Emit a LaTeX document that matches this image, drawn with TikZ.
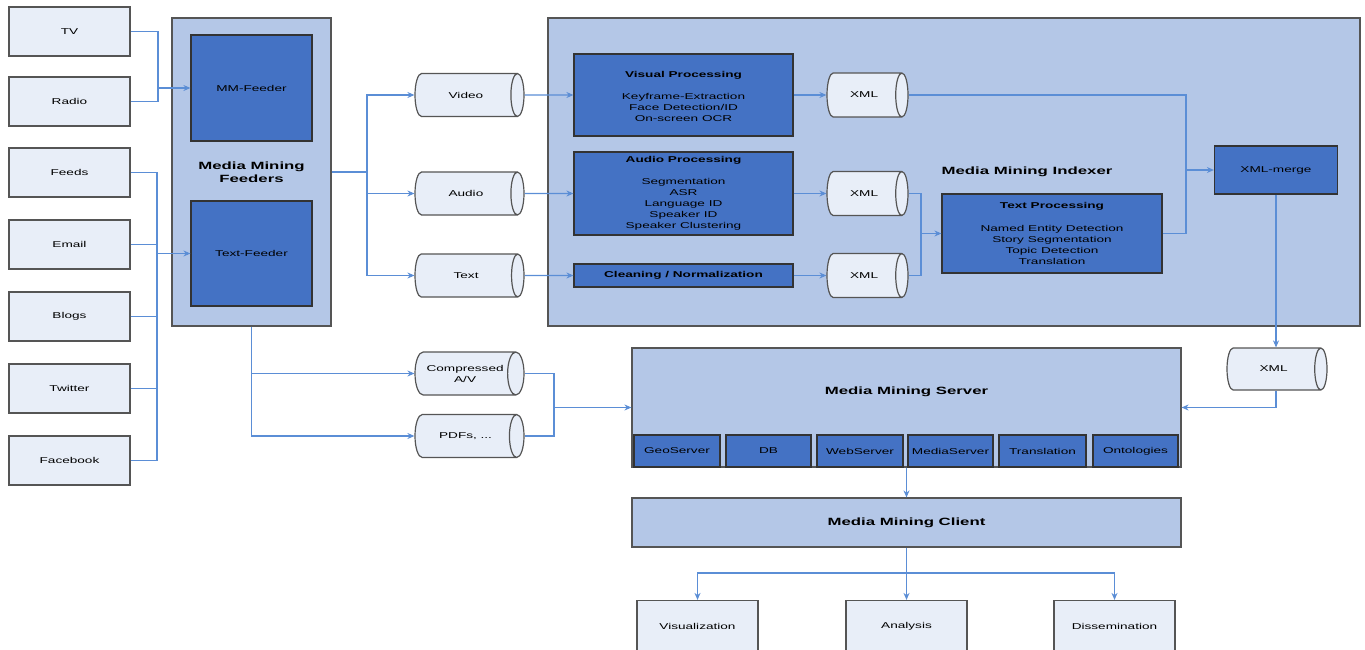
\documentclass[tikz,border=0pt]{standalone}
\usepackage{fontspec}
\setmainfont{Liberation Sans}[FakeStretch=1.6]
\usetikzlibrary{arrows.meta,shapes.geometric}

\definecolor{srcfill}{HTML}{E8EEF8}
\definecolor{boxblue}{HTML}{4472C4}
\definecolor{panelblue}{HTML}{B4C7E7}
\definecolor{wireblue}{HTML}{5B8ED6}
\definecolor{rim}{HTML}{555555}

\begin{document}
\begin{tikzpicture}[x=1pt,y=-1pt,>={Stealth[length=7pt,width=6pt]},node distance=72pt,
                    font=\fontsize{8.5}{11}\selectfont,
                    src node/.style={rectangle,draw=rim,line width=1.2pt,fill=srcfill,minimum width=121pt,minimum height=49pt,inner sep=0pt},
                    blue node/.style={rectangle,draw=rim!60!black,line width=1.2pt,fill=boxblue,inner sep=0pt,align=center},
                    panel node/.style={rectangle,draw=rim,line width=1.2pt,fill=panelblue,inner sep=0pt,align=center,font=\fontsize{10.5}{13}\selectfont\bfseries},
                    head text/.style={font=\fontsize{10.5}{13}\selectfont\bfseries},
                    store/.style={cylinder,shape aspect=2.1,anchor=shape center,draw=rim,line width=1.2pt,fill=srcfill,inner sep=0pt,align=center,minimum height=109pt,minimum width=43pt},
                    link/.style={draw=wireblue,line width=1.2pt},
                    elbow/.style={to path={-| (\tikztotarget)}},
                    knee/.style={to path={|- (\tikztotarget)}}]

  \useasboundingbox (0,0) rectangle (1365,650);
  \clip (0,0) rectangle (1365,650);

  % sources
  \node[src node] (tv) at (69.5,31.5) {TV};
  \node[src node] (radio) [below of=tv,node distance=70pt] {Radio};
  \node[src node] (feeds) [below of=radio,node distance=71pt] {Feeds};
  \node[src node] (email) [below of=feeds] {Email};
  \node[src node] (blogs) [below of=email] {Blogs};
  \node[src node] (twitter) [below of=blogs] {Twitter};
  \node[src node] (facebook) [below of=twitter] {Facebook};

  % feeders
  \node[panel node,minimum width=159pt,minimum height=308pt] (feeders) at (251.5,172) {Media Mining\\Feeders};
  \node[blue node,minimum width=121pt,minimum height=106pt] (mmfeed) at (251.5,88) {MM-Feeder};
  \node[blue node,minimum width=121pt,minimum height=105pt] (txtfeed) at (251.5,253.5) {Text-Feeder};

  % indexer
  \node[panel node,minimum width=812pt,minimum height=308pt] (indexer) at (954,172) {};
  \node[head text] (idxlabel) at (1027,172) {Media Mining Indexer};

  \node[store] (video) at (469.5,95) {Video};
  \node[store] (audio) at (469.5,193.5) {Audio};
  \node[store] (text) at (469.5,275.5) {Text};

  \node[blue node,minimum width=219pt,minimum height=82pt] (visual) at (683.5,95)
    {\mbox{}\\[-1pt]\textbf{Visual Processing}\\[11pt]Keyframe-Extraction\\Face Detection/ID\\On-screen OCR};
  \node[blue node,minimum width=219pt,minimum height=83pt] (audioproc) at (683.5,193.5)
    {\textbf{Audio Processing}\\[11pt]Segmentation\\ASR\\Language ID\\Speaker ID\\Speaker Clustering};
  \node[blue node,minimum width=219pt,minimum height=23pt] (clean) at (683.5,275.5) {\textbf{Cleaning / Normalization}};

  \node[store,minimum height=81pt,minimum width=44pt] (xmlv) at (867.5,95) {XML};
  \node[store,minimum height=81pt,minimum width=44pt] (xmla) at (867.5,193.5) {XML};
  \node[store,minimum height=81pt,minimum width=44pt] (xmlt) at (867.5,275.5) {XML};

  \node[blue node,minimum width=220pt,minimum height=79pt] (textproc) at (1052,233.5)
    {\textbf{Text Processing}\\[12pt]Named Entity Detection\\Story Segmentation\\Topic Detection\\Translation};
  \node[blue node,minimum width=123pt,minimum height=48pt] (merge) at (1276,170) {XML-merge};
  \node[store,minimum height=100pt,minimum width=42pt] (xmlout) at (1277,369) {XML};

  % archive
  \node[store,shape aspect=0.95] (compav) at (469.5,373.5) {Compressed\\A/V};
  \node[store] (pdfs) at (469.5,436) {PDFs, ...};

  % server and client
  \node[panel node,minimum width=549pt,minimum height=119pt] (server) at (906.5,407.5) {};
  \node[head text] (srvlabel) at (906.5,392) {Media Mining Server};
  \node[blue node,minimum width=86pt,minimum height=32pt] (geo) at (677,451) {GeoServer};
  \node[blue node,minimum width=85pt,minimum height=32pt] (db) at (768.5,451) {DB};
  \node[blue node,minimum width=86pt,minimum height=32pt] (web) at (860,451) {WebServer};
  \node[blue node,minimum width=85pt,minimum height=32pt] (media) at (950.5,451) {MediaServer};
  \node[blue node,minimum width=87pt,minimum height=32pt] (transl) at (1042.5,451) {Translation};
  \node[blue node,minimum width=85pt,minimum height=32pt] (onto) at (1135.5,451) {Ontologies};

  \node[panel node,minimum width=549pt,minimum height=49pt] (client) at (906.5,522.5) {Media Mining Client};
  \node[src node,minimum height=52pt] (vis) at (697.5,626.5) {Visualization};
  \node[src node,minimum height=52pt] (analysis) at (906.5,626.5) {Analysis};
  \node[src node,minimum height=52pt] (dissem) at (1114.5,626.5) {Dissemination};

  \coordinate (mmjoin) at (158,88);
  \coordinate (txjoin) at (157,253.5);
  \coordinate (fdjoin) at (367,172);
  \coordinate (tpjoin) at (921,233.5);
  \coordinate (mgjoin) at (1186,170);
  \coordinate (avjoin) at (554,407.5);
  \coordinate (clsplit) at (906.5,573);

  \path[link]
    (tv.east) edge [elbow] (mmjoin)
    (radio.east) edge [elbow] (mmjoin)
    (mmjoin) edge [->] (mmfeed)

    (feeds.east) edge [elbow] (txjoin)
    (email.east) edge [elbow] (txjoin)
    (blogs.east) edge [elbow] (txjoin)
    (twitter.east) edge [elbow] (txjoin)
    (facebook.east) edge [elbow] (txjoin)
    (txjoin) edge [->] (txtfeed)

    (feeders.east) edge (fdjoin)
    (fdjoin) edge [knee,->] (video)
    (fdjoin) edge [knee,->] (audio)
    (fdjoin) edge [knee,->] (text)

    (video) edge [->] (visual)
    (audio) edge [->] (audioproc)
    (text) edge [->] (clean)
    (visual) edge [->] (xmlv)
    (audioproc) edge [->] (xmla)
    (clean) edge [->] (xmlt)

    (xmla.east) edge [elbow] (tpjoin)
    (xmlt.east) edge [elbow] (tpjoin)
    (tpjoin) edge [->] (textproc)
    (xmlv.east) edge [elbow] (mgjoin)
    (textproc.east) edge [elbow] (mgjoin)
    (mgjoin) edge [->] (merge)
    (merge) edge [->] (merge |- xmlout.north)
    (merge |- xmlout.south) edge [knee,->] (server.east)

    (feeders.south) edge [knee,->] (compav)
    (feeders.south) edge [knee,->] (pdfs)
    (compav.east) edge [elbow] (avjoin)
    (pdfs.east) edge [elbow] (avjoin)
    (avjoin) edge [->] (server)

    (server) edge [->] (client)
    (client) edge [->] (analysis)
    (clsplit) edge [elbow,->] (vis)
    (clsplit) edge [elbow,->] (dissem)
;
\end{tikzpicture}
\end{document}
